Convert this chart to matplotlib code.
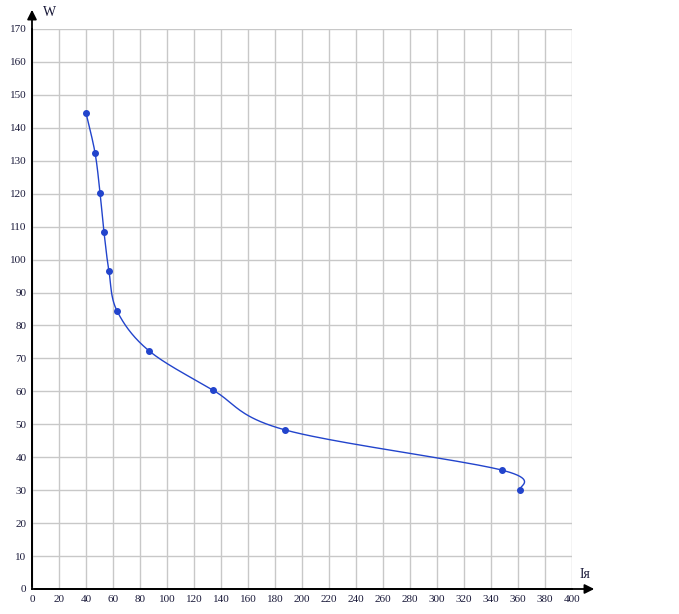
import numpy as np
import matplotlib
matplotlib.use("Agg")
import matplotlib.pyplot as plt

# data
ia = [40, 46.7, 50.4, 53.3, 57.0, 63.0, 86.7, 134.0, 187.4, 348.0, 361.5]
w = [144.5, 132.4, 120.2, 108.4, 96.5, 84.4, 72.3, 60.4, 48.3, 36.1, 30.1]
xticks = list(range(0, 401, 20))
yticks = list(range(0, 171, 10))

BLUE = "#2244cc"


def catmull_rom(px, py, n=40):
    # uniform Catmull-Rom through the points (ends: duplicated points)
    P = np.column_stack([px, py]).astype(float)
    P = np.vstack([P[0], P, P[-1]])
    out = []
    t = np.linspace(0, 1, n)[:, None]
    h00 = 2 * t**3 - 3 * t**2 + 1
    h10 = t**3 - 2 * t**2 + t
    h01 = -2 * t**3 + 3 * t**2
    h11 = t**3 - t**2
    for i in range(1, len(P) - 2):
        p0, p1, p2, p3 = P[i - 1], P[i], P[i + 1], P[i + 2]
        m1 = (p2 - p0) / 2
        m2 = (p3 - p1) / 2
        out.append(h00 * p1 + h10 * m1 + h01 * p2 + h11 * m2)
    c = np.vstack(out)
    return c[:, 0], c[:, 1]


W_PX, H_PX = 679, 614
fig = plt.figure(figsize=(W_PX / 100, H_PX / 100), dpi=100)
ax = fig.add_axes([32 / W_PX, (H_PX - 589) / H_PX, 540 / W_PX, 560 / H_PX])

ax.set_xlim(0, 400)
ax.set_ylim(0, 170)
ax.set_xticks(xticks)
ax.set_yticks(yticks)
ax.grid(True, color="#c8c8c8", lw=1)
ax.set_axisbelow(True)
for s in ["top", "right"]:
    ax.spines[s].set_visible(False)
for s in ["left", "bottom"]:
    ax.spines[s].set_color("black")
    ax.spines[s].set_linewidth(1.3)
ax.tick_params(length=0, labelsize=8, labelcolor="#1a1a3a", pad=4)
for lab in ax.get_xticklabels() + ax.get_yticklabels():
    lab.set_fontfamily("Liberation Serif")

sx, sy = catmull_rom(ia, w)
ax.plot(sx, sy, color=BLUE, lw=1, clip_on=False)
ax.plot(ia, w, "o", color=BLUE, ms=4, clip_on=False)

# axis arrows
ax.annotate("", xy=(32 / W_PX, 1 - 7 / H_PX), xycoords="figure fraction",
            xytext=(32 / W_PX, (H_PX - 589) / H_PX), textcoords="figure fraction",
            arrowprops=dict(arrowstyle="-|>", color="black", lw=1.3,
                            mutation_scale=14))
ax.annotate("", xy=(597 / W_PX, (H_PX - 589) / H_PX), xycoords="figure fraction",
            xytext=(32 / W_PX, (H_PX - 589) / H_PX), textcoords="figure fraction",
            arrowprops=dict(arrowstyle="-|>", color="black", lw=1.3,
                            mutation_scale=14))

fig.text(43 / W_PX, 1 - 13 / H_PX, "W", fontsize=10, color="#1a1a3a",
         family="Liberation Serif", va="center")
fig.text(580 / W_PX, 1 - 575 / H_PX, "Iя", fontsize=10, color="#1a1a3a",
         family="Liberation Serif", va="center")

fig.savefig("out.png", dpi=100)
